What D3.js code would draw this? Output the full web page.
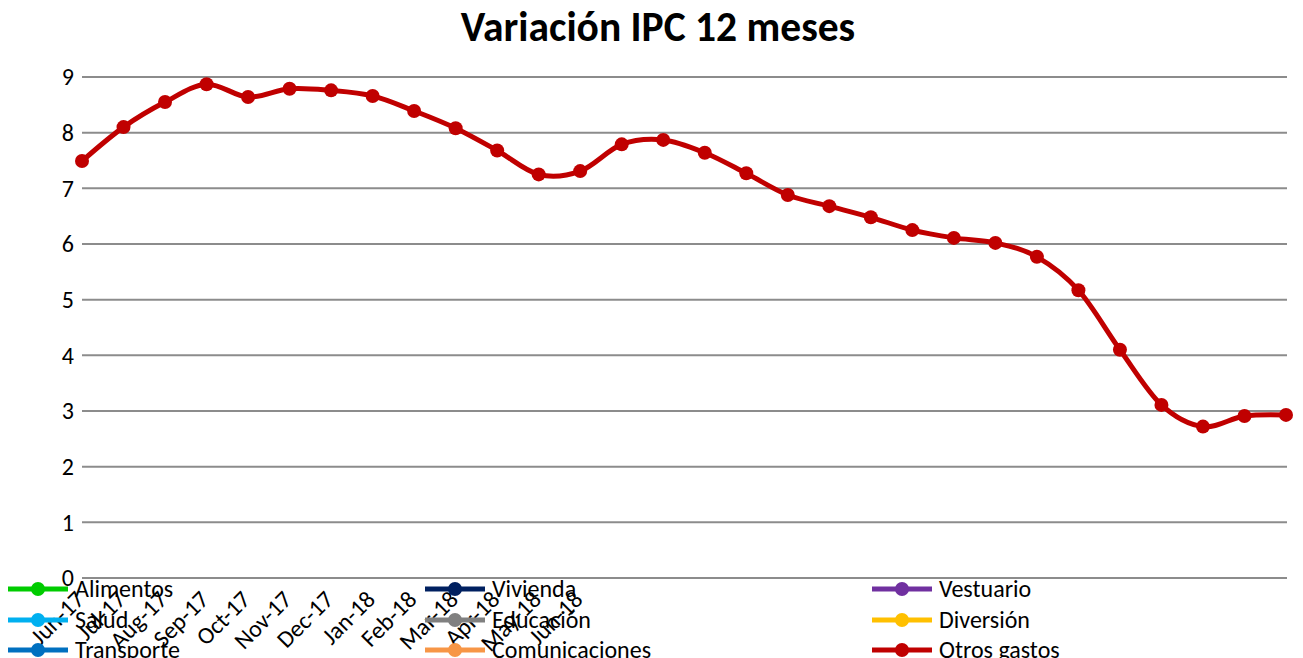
<!DOCTYPE html>
<html><head><meta charset="utf-8">
<script src="https://cdn.jsdelivr.net/npm/d3@7"></script>
<style>
body{margin:0;background:#fff;}
svg text{font-family:Carlito,"Liberation Sans Narrow","DejaVu Sans Condensed","Open Sans",sans-serif;}
</style></head>
<body><svg id="c" width="1303" height="658"></svg>
<script>
const months = ["Jun-17","Jul-17","Aug-17","Sep-17","Oct-17","Nov-17","Dec-17","Jan-18","Feb-18","Mar-18","Apr-18","May-18","Jun-18",
 "p14","p15","p16","p17","p18","p19","p20","p21","p22","p23","p24","p25","p26","p27","p28","p29","p30"];
const tickLabels = ["Jun-17","Jul-17","Aug-17","Sep-17","Oct-17","Nov-17","Dec-17","Jan-18","Feb-18","Mar-18","Apr-18","May-18","Jun-18"];
const otrosGastos = [7.49,8.10,8.55,8.87,8.64,8.79,8.76,8.66,8.39,8.08,7.68,7.25,7.31,7.79,7.87,7.64,7.27,6.88,6.68,6.48,6.25,6.11,6.02,5.77,5.17,4.10,3.11,2.72,2.91,2.93];
const yTicks = [0,1,2,3,4,5,6,7,8,9];
const legendNames = ["Alimentos","Vivienda","Vestuario","Salud","Educación","Diversión","Transporte","Comunicaciones","Otros gastos"];
const legendColors = ["#00CC00","#002060","#7030A0","#00B0F0","#808080","#FFC000","#0070C0","#F79646","#C00000"];

const svg = d3.select("#c");
const x = d3.scalePoint().domain(months).range([82,1286]);
const y = d3.scaleLinear().domain([0,9]).range([578,77]);

svg.append("text").attr("x",658).attr("y",41).attr("text-anchor","middle")
  .attr("font-size",41.5).attr("font-weight","bold").text("Variación IPC 12 meses");

const grid = svg.append("g");
grid.selectAll("line").data(yTicks).join("line")
  .attr("x1",82).attr("x2",1287).attr("y1",d=>y(d)).attr("y2",d=>y(d))
  .attr("stroke","#8c8c8c").attr("stroke-width",2);
grid.selectAll("text").data(yTicks).join("text")
  .attr("x",74).attr("y",d=>y(d)).attr("dy","0.35em").attr("text-anchor","end")
  .attr("font-size",24).text(d=>d);

svg.append("g").selectAll("text").data(tickLabels).join("text")
  .attr("transform",d=>`translate(${x(d)-8},${589}) rotate(-45)`)
  .attr("text-anchor","end").attr("dy","0.7em").attr("font-size",24).text(d=>d);

const line = d3.line().x((d,i)=>x(months[i])).y(d=>y(d)).curve(d3.curveCardinal.tension(0));
svg.append("path").datum(otrosGastos).attr("d",line).attr("fill","none")
  .attr("stroke","#C00000").attr("stroke-width",5);
svg.append("g").selectAll("circle").data(otrosGastos).join("circle")
  .attr("cx",(d,i)=>x(months[i])).attr("cy",d=>y(d)).attr("r",7).attr("fill","#C00000");

const colX = [8,425,872];
const rowY = [589,620,650];
const lg = svg.append("g").selectAll("g").data(legendNames).join("g")
  .attr("transform",(d,i)=>`translate(${colX[i%3]},${rowY[Math.floor(i/3)]})`);
lg.append("line").attr("x1",0).attr("x2",60).attr("stroke",(d,i)=>legendColors[i]).attr("stroke-width",5);
lg.append("circle").attr("cx",30).attr("r",7).attr("fill",(d,i)=>legendColors[i]);
lg.append("text").attr("x",67).attr("dy","0.35em").attr("font-size",24).text(d=>d);
</script></body></html>
